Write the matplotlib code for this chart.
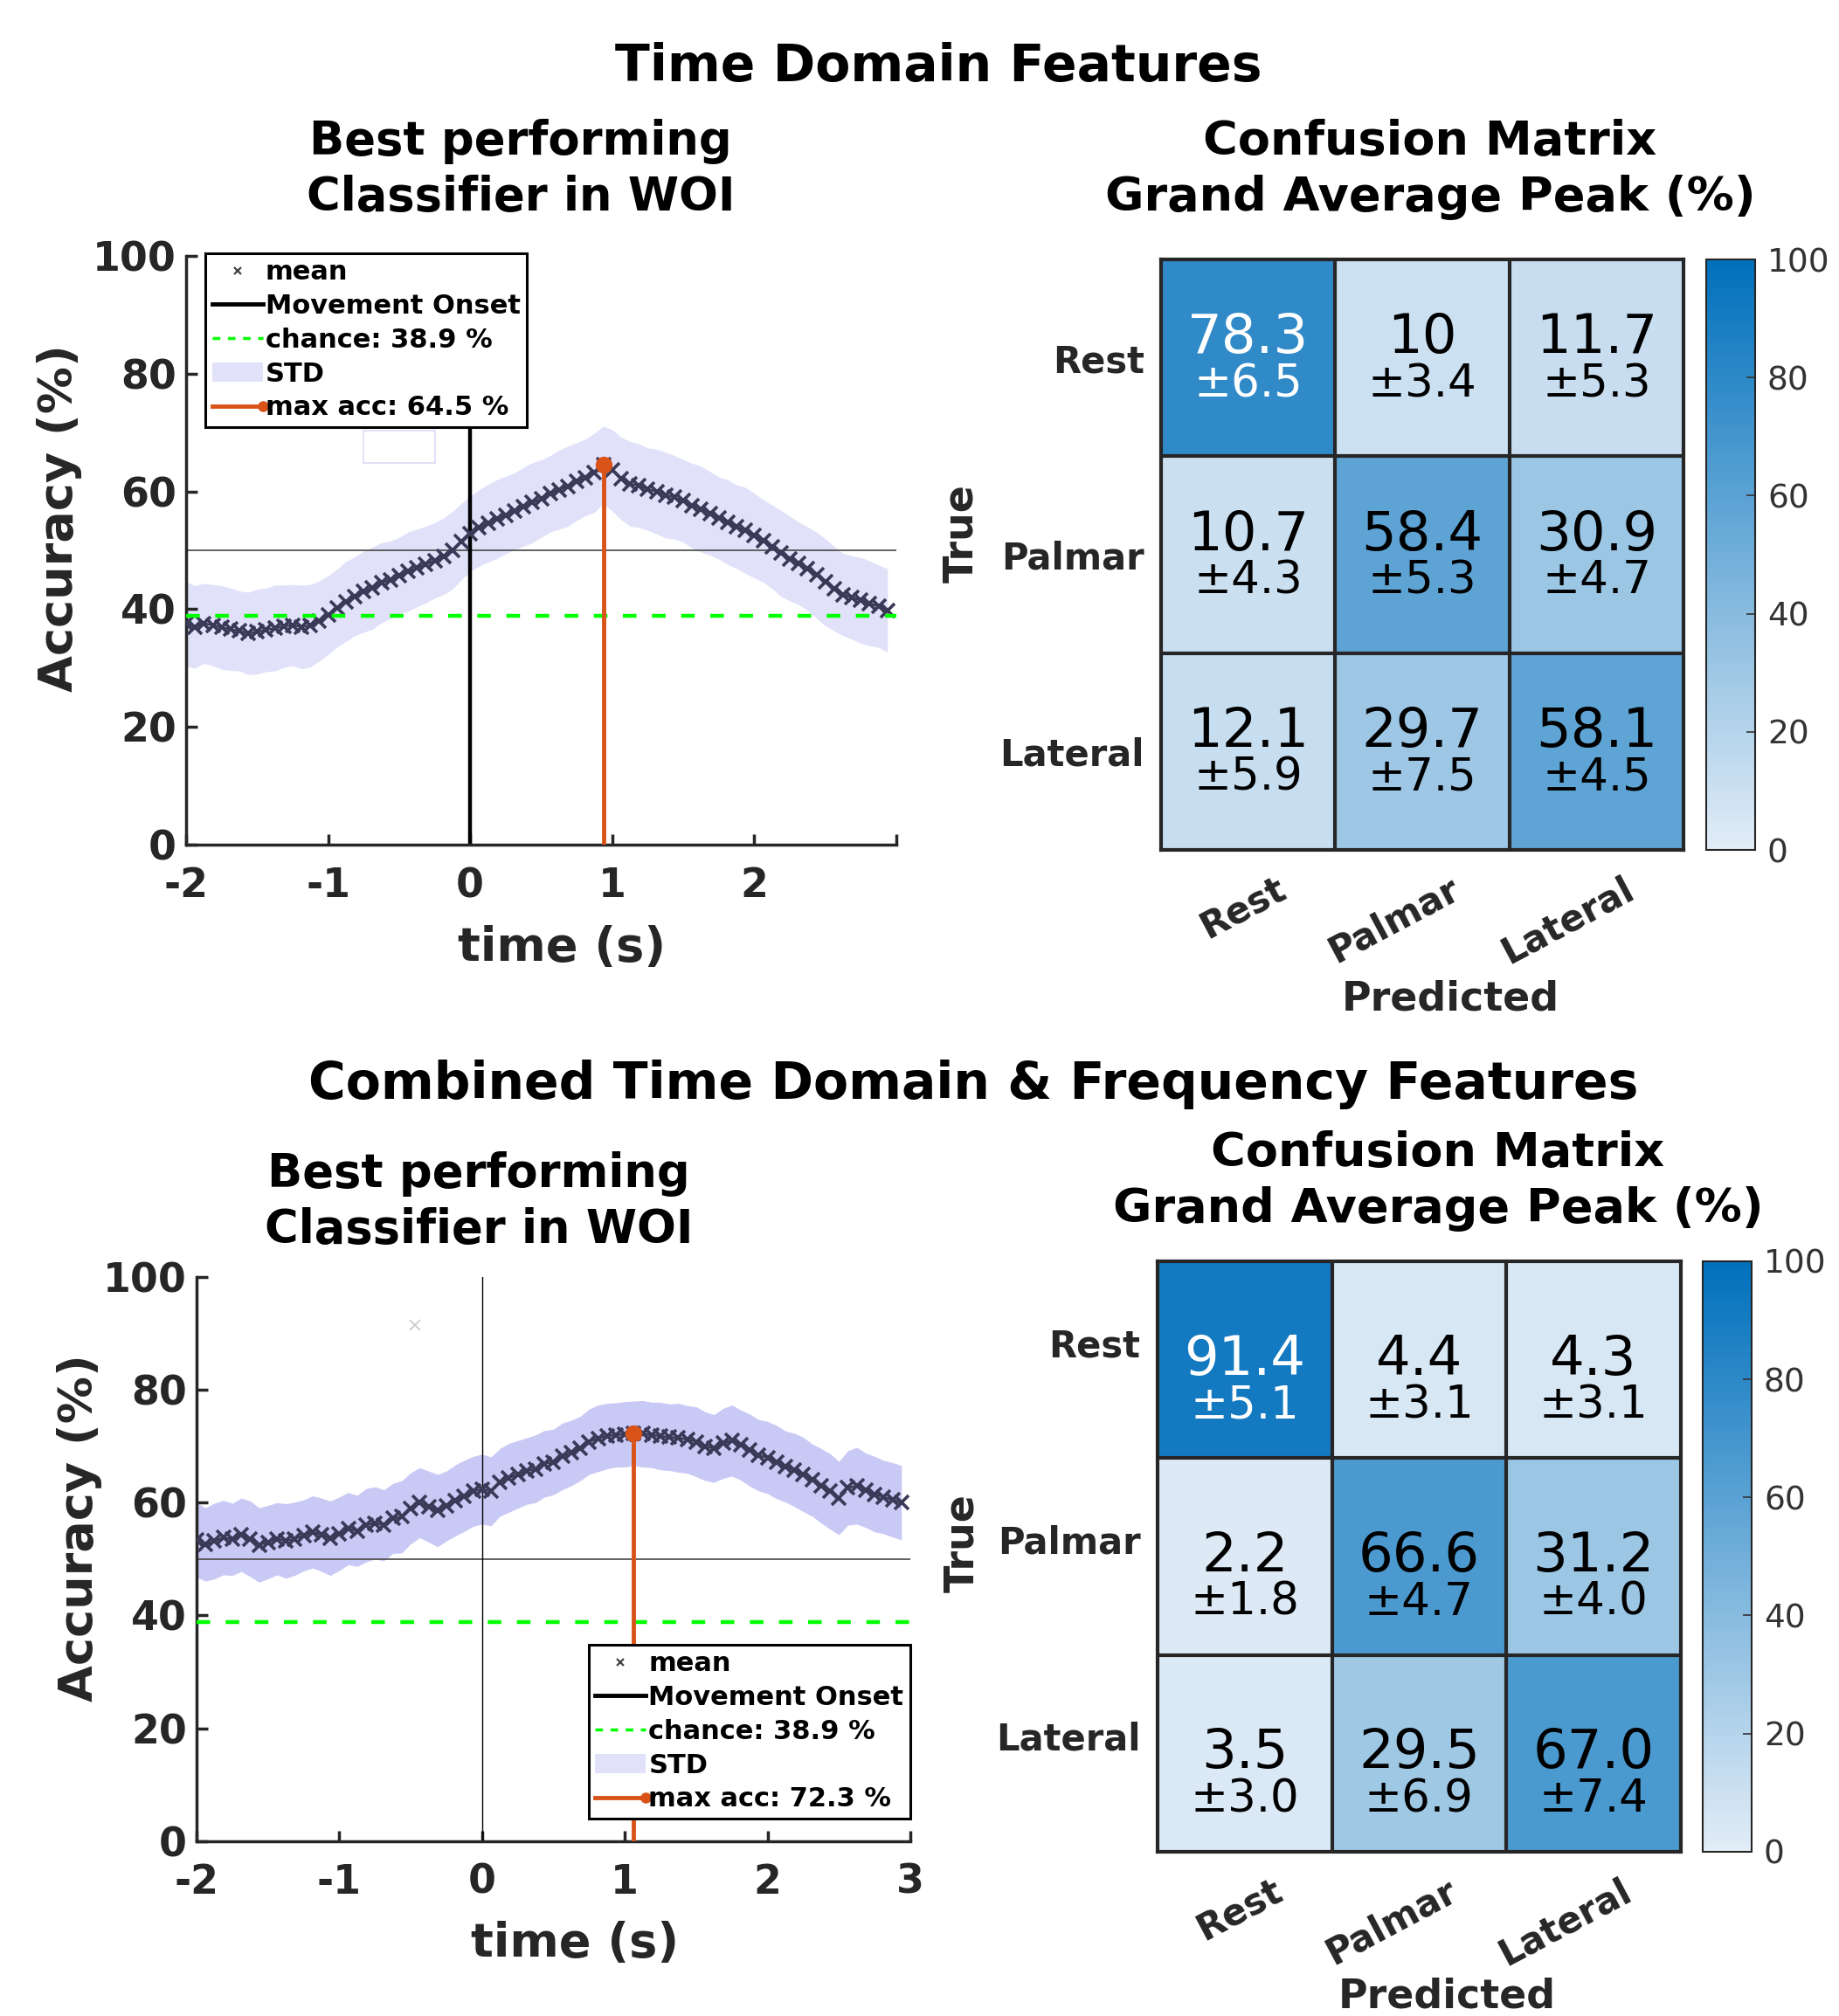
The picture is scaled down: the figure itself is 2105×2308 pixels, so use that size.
import numpy as np
import matplotlib
matplotlib.use('Agg')
import matplotlib.pyplot as plt
from matplotlib.colors import LinearSegmentedColormap
from matplotlib.lines import Line2D
from matplotlib.patches import Patch, Rectangle
from matplotlib.legend_handler import HandlerBase
import matplotlib.transforms as mtransforms

plt.rcParams['font.family'] = ['DejaVu Sans']
plt.rcParams['axes.unicode_minus'] = False

# ---------------- data ----------------
time_start = -2.0
time_step = 0.0625

mean_td = [37.5, 37.0, 37.6, 37.3, 36.9, 36.6, 36.3, 35.9, 36.2, 36.5,
           36.8, 37.1, 37.3, 37.0, 37.2, 38.0, 39.0, 40.2, 41.3, 42.2,
           43.0, 43.6, 44.5, 45.0, 45.7, 46.4, 47.0, 47.6, 48.3, 49.0,
           50.0, 51.5, 52.8, 53.8, 54.6, 55.3, 56.0, 56.7, 57.4, 58.1,
           58.8, 59.6, 60.3, 60.9, 61.7, 62.4, 63.2, 64.5, 63.6, 62.2,
           61.3, 61.0, 60.4, 60.0, 59.4, 59.0, 58.4, 57.6, 57.0, 56.3,
           55.5, 54.8, 54.0, 53.4, 52.5, 51.6, 50.6, 49.5, 48.6, 47.8,
           46.9, 45.8, 44.6, 43.5, 42.5, 42.0, 41.5, 41.0, 40.5, 39.8]
std_td = [7.2, 7.0, 6.8, 6.9, 7.1, 7.0, 6.8, 7.0, 7.2, 7.1,
          7.3, 7.0, 6.9, 7.1, 7.0, 6.8, 6.7, 6.6, 6.8, 6.7,
          6.9, 7.0, 6.8, 6.6, 6.5, 6.7, 6.6, 6.5, 6.4, 6.5,
          6.6, 6.5, 6.4, 6.5, 6.6, 6.7, 6.6, 6.5, 6.7, 6.8,
          6.6, 6.5, 6.7, 6.8, 6.6, 6.5, 6.7, 6.6, 6.9, 7.0,
          7.2, 7.1, 7.0, 7.2, 7.3, 7.1, 7.0, 7.2, 7.3, 7.1,
          7.0, 7.2, 7.1, 7.3, 7.2, 7.0, 7.1, 7.3, 7.2, 7.0,
          7.1, 7.3, 7.4, 7.2, 7.0, 7.1, 7.3, 7.2, 7.0, 7.1]

mean_comb = [53.4, 52.6, 53.2, 53.8, 53.5, 54.3, 53.6, 52.5, 53.0, 53.6,
             53.2, 53.6, 54.2, 54.8, 54.3, 53.7, 54.5, 55.4, 55.0, 56.0,
             56.4, 56.0, 57.2, 57.5, 59.0, 60.0, 59.3, 58.6, 59.4, 60.4,
             61.2, 62.0, 62.4, 62.0, 63.6, 64.4, 65.0, 65.6, 66.0, 66.9,
             67.2, 68.2, 68.8, 69.6, 70.8, 71.4, 71.8, 72.0, 72.1, 72.3,
             72.2, 72.0, 71.8, 71.6, 71.5, 71.2, 70.8, 70.0, 69.6, 70.5,
             71.0, 70.2, 69.3, 68.4, 68.0, 67.2, 66.4, 65.8, 65.0, 64.0,
             63.0, 62.0, 60.8, 62.6, 63.0, 62.2, 61.5, 61.0, 60.5, 60.0]
std_comb = [6.6, 6.5, 6.7, 6.6, 6.4, 6.5, 6.7, 6.6, 6.5, 6.4,
            6.6, 6.5, 6.3, 6.4, 6.5, 6.6, 6.5, 6.4, 6.3, 6.5,
            6.4, 6.3, 6.2, 6.4, 6.3, 6.2, 6.3, 6.4, 6.2, 6.3,
            6.3, 6.2, 6.2, 6.1, 6.0, 6.1, 6.0, 5.9, 6.0, 5.9,
            5.8, 5.9, 5.8, 5.7, 5.8, 5.9, 5.8, 5.7, 5.8, 5.7,
            5.9, 5.8, 6.0, 5.9, 6.1, 6.0, 6.2, 6.1, 6.0, 6.2,
            6.3, 6.2, 6.4, 6.3, 6.4, 6.5, 6.3, 6.5, 6.6, 6.4,
            6.6, 6.7, 6.5, 6.6, 6.8, 6.6, 6.7, 6.5, 6.6, 6.6]

chance_level = 38.9
classes = ['Rest', 'Palmar', 'Lateral']

cm_td = [[78.3, 10.0, 11.7], [10.7, 58.4, 30.9], [12.1, 29.7, 58.1]]
cm_td_std = [[6.5, 3.4, 5.3], [4.3, 5.3, 4.7], [5.9, 7.5, 4.5]]
cm_comb = [[91.4, 4.4, 4.3], [2.2, 66.6, 31.2], [3.5, 29.5, 67.0]]
cm_comb_std = [[5.1, 3.1, 3.1], [1.8, 4.7, 4.0], [3.0, 6.9, 7.4]]

# ---------------- styles ----------------
ORANGE = '#d95319'
GREEN = '#00ff00'
MARK = '#3a3a58'
DARK = '#262626'
cmap = LinearSegmentedColormap.from_list('cmblue', ['#e2edf7', '#0070bc'])

fig = plt.figure(figsize=(21.05, 23.08), dpi=100)


class StemHandler(HandlerBase):
    def create_artists(self, legend, orig_handle, xdescent, ydescent,
                       width, height, fontsize, trans):
        y = height / 2 - ydescent
        ln = Line2D([-xdescent, width - xdescent], [y, y], color=ORANGE, lw=3.5)
        mk = Line2D([width - xdescent], [y], marker='o', color=ORANGE,
                    markersize=8, ls='none')
        ln.set_transform(trans)
        mk.set_transform(trans)
        return [ln, mk]


def accuracy_panel(rect, mean, std, band_color, onset_lw, xtick_labels,
                   legend_kw, xlab_pos, ylab_pos, extra=None):
    ax = fig.add_axes(rect)
    mean = np.asarray(mean)
    std = np.asarray(std)
    t = time_start + time_step * np.arange(len(mean))
    ax.fill_between(t, mean - std, mean + std, color=band_color, lw=0, zorder=1)
    ax.axhline(50, color='#555555', lw=1.3, zorder=2)
    ax.plot(t, mean, color=MARK, lw=1.8, marker='x', markersize=11, mew=2.6, zorder=3)
    ax.axvline(0, color='black', lw=onset_lw, zorder=2)
    ax.axhline(chance_level, color=GREEN, lw=3.2, dashes=(3.5, 4), zorder=4)
    imax = int(np.argmax(mean))
    ax.plot([t[imax], t[imax]], [0, mean[imax]], color=ORANGE, lw=3.5, zorder=5)
    ax.plot([t[imax]], [mean[imax]], 'o', color=ORANGE, markersize=13, zorder=6)
    if extra is not None:
        extra(ax)
    ax.set_xlim(-2, 3)
    ax.set_ylim(0, 100)
    ax.set_xticks([-2, -1, 0, 1, 2, 3])
    ax.set_xticklabels(xtick_labels)
    ax.set_yticks([0, 20, 40, 60, 80, 100])
    for s in ['top', 'right']:
        ax.spines[s].set_visible(False)
    for s in ['left', 'bottom']:
        ax.spines[s].set_linewidth(2.5)
        ax.spines[s].set_color(DARK)
    ax.tick_params(direction='in', length=9, width=2.5, colors=DARK,
                   labelsize=33)
    ax.tick_params(axis='x', pad=18)
    ax.tick_params(axis='y', pad=8)
    for lab in ax.get_xticklabels() + ax.get_yticklabels():
        lab.set_fontweight('bold')
    xl = ax.set_xlabel('time (s)', fontsize=39, fontweight='bold', color=DARK)
    xl.set_va('center')
    ax.xaxis.set_label_coords(*xlab_pos)
    yl = ax.set_ylabel('Accuracy (%)', fontsize=39, fontweight='bold', color=DARK)
    yl.set_va('center')
    yl.set_rotation_mode('default')
    ax.yaxis.set_label_coords(*ylab_pos)

    handles = [
        Line2D([], [], marker='x', ls='none', color='#444444', markersize=6, mew=1.6),
        Line2D([], [], color='black', lw=3.5),
        Line2D([], [], color=GREEN, lw=2.5, dashes=(2.5, 2.5)),
        Patch(facecolor='#e1e1fa', edgecolor='none'),
    ]
    labels = ['mean', 'Movement Onset', 'chance: %.1f %%' % chance_level, 'STD',
              'max acc: %.1f %%' % mean[imax]]
    stem_proxy = Line2D([], [], color=ORANGE)
    leg = ax.legend(handles + [stem_proxy], labels,
                    handler_map={stem_proxy: StemHandler()},
                    prop={'weight': 'bold', 'size': 22}, fancybox=False,
                    framealpha=1, edgecolor='black', handlelength=1.9,
                    handletextpad=0.1, borderpad=0.25, labelspacing=0.32,
                    borderaxespad=0, **legend_kw)
    leg.get_frame().set_linewidth(2.2)
    leg.set_zorder(10)
    return ax


def cm_panel(rect, crect, vals, stds, fmt, main_off, row_off, xlab_pos, ylab_pos):
    ax = fig.add_axes(rect)
    vals = np.asarray(vals)
    im = ax.imshow(vals, cmap=cmap, vmin=0, vmax=100, aspect='auto',
                   extent=(-0.5, 2.5, 2.5, -0.5), interpolation='nearest')
    for k in [0.5, 1.5]:
        ax.axhline(k, color=DARK, lw=3)
        ax.axvline(k, color=DARK, lw=3)
    for i in range(3):
        for j in range(3):
            c = 'white' if vals[i, j] > 70 else 'black'
            ax.text(j, i + main_off, fmt.format(vals[i, j]), ha='center',
                    va='center', fontsize=45, color=c)
            ax.text(j, i + main_off + 0.235, '\u00b1' + '{:.1f}'.format(stds[i][j]),
                    ha='center', va='center', fontsize=37, color=c)
    for s in ax.spines.values():
        s.set_linewidth(3)
        s.set_color(DARK)
    ax.set_xticks([0, 1, 2])
    ax.set_yticks([0, 1, 2])
    ax.set_yticklabels(classes)
    ax.set_xticklabels(classes)
    ax.tick_params(length=0, labelsize=30, colors=DARK, pad=14)
    for lab in ax.get_yticklabels():
        lab.set_fontweight('bold')
        lab.set_transform(lab.get_transform() + mtransforms.ScaledTranslation(0, row_off / 100, fig.dpi_scale_trans))
    offset = mtransforms.ScaledTranslation(0.30, -0.04, fig.dpi_scale_trans)
    for lab in ax.get_xticklabels():
        lab.set_fontweight('bold')
        lab.set_rotation(28)
        lab.set_ha('right')
        lab.set_va('top')
        lab.set_rotation_mode('anchor')
        lab.set_transform(lab.get_transform() + offset)
    xl = ax.set_xlabel('Predicted', fontsize=33, fontweight='bold', color=DARK)
    xl.set_va('center')
    ax.xaxis.set_label_coords(*xlab_pos)
    yl = ax.set_ylabel('True', fontsize=33, fontweight='bold', color=DARK)
    yl.set_va('center')
    yl.set_rotation_mode('default')
    ax.yaxis.set_label_coords(*ylab_pos)
    cax = fig.add_axes(crect)
    cb = fig.colorbar(im, cax=cax, ticks=[0, 20, 40, 60, 80, 100])
    cb.outline.set_linewidth(1.5)
    cb.outline.set_edgecolor(DARK)
    cax.tick_params(direction='in', length=7, width=1.2, labelsize=27,
                    colors='#333333', pad=10)
    return ax


def td_extra(ax):
    ax.add_patch(Rectangle((-0.75, 64.8), 0.5, 5.5, fill=False,
                           edgecolor='#dcdcf6', lw=1.2, zorder=2))


def comb_extra(ax):
    ax.plot([-0.47], [91.5], marker='x', color='#c8c8c8', markersize=9, mew=1.2, ls='none')


# ---------------- top row ----------------
accuracy_panel([0.1012, 0.5810, 0.3862, 0.2920], mean_td, std_td, '#e1e1fa', 3.2,
               ['-2', '-1', '0', '1', '2', ''],
               dict(loc='upper left', bbox_to_anchor=(0.027, 1.005)),
               (0.529, -0.175), (-0.178, 0.555), td_extra)
cm_panel([0.6314, 0.5784, 0.2841, 0.2929], [0.9278, 0.5784, 0.0266, 0.2929],
         cm_td, cm_td_std, '{:g}', -0.10, 0, (0.554, -0.253), (-0.382, 0.536))

# ---------------- bottom row ----------------
accuracy_panel([0.1069, 0.0867, 0.3881, 0.2799], mean_comb, std_comb, '#c9c9f6', 1.0,
               ['-2', '-1', '0', '1', '2', '3'],
               dict(loc='lower right', bbox_to_anchor=(1.0, 0.04)),
               (0.53, -0.182), (-0.164, 0.556), comb_extra)
cm_panel([0.6294, 0.0815, 0.2846, 0.2929], [0.9259, 0.0815, 0.0266, 0.2929],
         cm_comb, cm_comb_std, '{:.1f}', 0.0, 20, (0.554, -0.245), (-0.373, 0.523))

# ---------------- titles ----------------
H = 2308.0
W = 2105.0
def ftext(x, y, s, size=38):
    fig.text(x / W, 1 - y / H, s, ha='center', va='center', fontsize=size,
             fontweight='bold', color='black', linespacing=1.3)

ftext(1074, 77, 'Time Domain Features', 42)
ftext(596, 194, 'Best performing\nClassifier in WOI')
ftext(1637, 194, 'Confusion Matrix\nGrand Average Peak (%)', 39)
ftext(1114, 1241, 'Combined Time Domain & Frequency Features', 42)
ftext(548, 1376, 'Best performing\nClassifier in WOI')
ftext(1646, 1352, 'Confusion Matrix\nGrand Average Peak (%)', 39)

fig.savefig('out.png', dpi=100, facecolor='white')
